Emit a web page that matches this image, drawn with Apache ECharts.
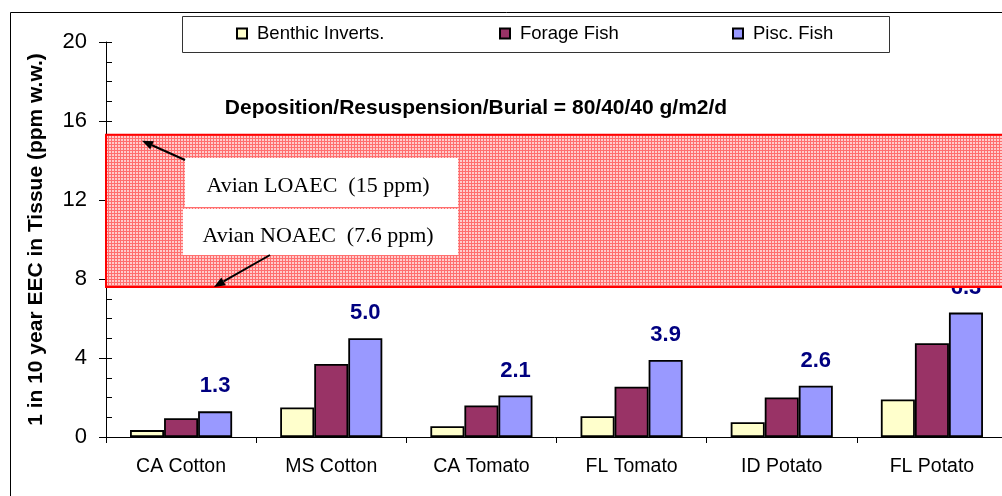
<!DOCTYPE html>
<html>
<head>
<meta charset="utf-8">
<script src="https://cdn.jsdelivr.net/npm/echarts@6/dist/echarts.min.js"></script>
<style>html,body{margin:0;padding:0;background:#fff;}#c{width:1002px;height:496px;}</style>
</head>
<body>
<div id="c"></div>
<script>
const categories = ['CA Cotton', 'MS Cotton', 'CA Tomato', 'FL Tomato', 'ID Potato', 'FL Potato'];
const seriesNames = ['Benthic Inverts.', 'Forage Fish', 'Pisc. Fish'];
const benthic = [0.35, 1.5, 0.55, 1.05, 0.75, 1.9];
const forage = [0.95, 3.7, 1.6, 2.55, 2.0, 4.75];
const pisc = [1.3, 5.0, 2.1, 3.9, 2.6, 6.3];
const yMin = 0, yMax = 20, yInterval = 4, yMinorInterval = 1;
const band = [7.6, 15.3];
const loaec = 15, noaec = 7.6;
const subtitle = 'Deposition/Resuspension/Burial = 80/40/40 g/m2/d';
const yTitle = '1 in 10 year EEC in Tissue (ppm w.w.)';
const noteLoaec = 'Avian LOAEC  (15 ppm)';
const noteNoaec = 'Avian NOAEC  (7.6 ppm)';

const FONT = "'Liberation Sans', Arial, sans-serif";
const SERIF = "'Liberation Serif', 'Times New Roman', serif";

// hatch pattern
const pat = document.createElement('canvas');
pat.width = 3; pat.height = 3;
const pc = pat.getContext('2d');
pc.fillStyle = '#FFCCCC'; pc.fillRect(0, 0, 3, 3);
pc.fillStyle = '#FF6E6E'; pc.fillRect(0, 0, 3, 1); pc.fillRect(0, 0, 1, 3);

const chart = echarts.init(document.getElementById('c'), null, {renderer: 'canvas'});

const colors = ['#FFFFCC', '#993366', '#9999FF'];
const dataSets = [benthic, forage, pisc];

const series = dataSets.map((d, i) => ({
  type: 'bar', barGap: '0%', barCategoryGap: '32%', z: 2,
  name: seriesNames[i],
  data: d,
  itemStyle: {color: colors[i], borderColor: '#000', borderWidth: 1.8},
  label: i === 2 ? {
    show: true, position: 'top', distance: 14,
    fontFamily: FONT, fontSize: 22, fontWeight: 'bold', color: '#000080',
    formatter: p => p.value.toFixed(1)
  } : {show: false}
}));
series.push({
  type: 'line', name: 'band', data: [], z: 6, silent: true,
  markArea: {
    z: 6, silent: true,
    itemStyle: {color: {image: pat, repeat: 'repeat'}, borderColor: '#FF0000', borderWidth: 2},
    data: [[{yAxis: band[0]}, {yAxis: band[1]}]]
  }
});

const legendBase = {
  top: 24, padding: 0, itemWidth: 10, itemHeight: 10, icon: 'rect',
  textStyle: {fontFamily: FONT, fontSize: 18.5, color: '#000', padding: [0, 0, 0, 5]},
  selectedMode: false
};

chart.setOption({
  animation: false,
  grid: {left: 106, right: -5, top: 42, bottom: 59, outerBoundsMode: 'none'},
  legend: [
    Object.assign({}, legendBase, {left: 236, data: [seriesNames[0]]}),
    Object.assign({}, legendBase, {left: 499, data: [seriesNames[1]]}),
    Object.assign({}, legendBase, {left: 732, data: [seriesNames[2]]})
  ],
  xAxis: {
    type: 'category', data: categories,
    axisLine: {lineStyle: {color: '#000', width: 1}},
    axisTick: {show: true, alignWithLabel: false, length: 6, lineStyle: {color: '#000'}},
    axisLabel: {fontFamily: FONT, fontSize: 19.5, color: '#000', margin: 20}
  },
  yAxis: [{
    type: 'value', min: yMin, max: yMax, interval: yInterval,
    name: yTitle, nameLocation: 'middle', nameRotate: 90, nameGap: 59,
    nameTextStyle: {fontFamily: FONT, fontSize: 21, fontWeight: 'bold', color: '#000'},
    axisLine: {show: true, lineStyle: {color: '#000', width: 1}},
    axisTick: {show: true, length: 7, lineStyle: {color: '#000'}},
    axisLabel: {fontFamily: FONT, fontSize: 22, color: '#000', margin: 19},
    splitLine: {show: false}
  }, {
    type: 'value', min: yMin, max: yMax, interval: yMinorInterval, position: 'left',
    axisLine: {show: false},
    axisTick: {show: true, inside: true, length: 6, lineStyle: {color: '#000'}},
    axisLabel: {show: false},
    splitLine: {show: false}
  }],
  series: series
});

function arrow(x1, y1, x2, y2) {
  const dx = x2 - x1, dy = y2 - y1, L = Math.sqrt(dx * dx + dy * dy);
  const ux = dx / L, uy = dy / L, hl = 11, hw = 4.5;
  const bx = x2 - ux * hl, by = y2 - uy * hl;
  return [
    {type: 'line', z: 20, shape: {x1: x1, y1: y1, x2: bx, y2: by}, style: {stroke: '#000', lineWidth: 2}},
    {type: 'polygon', z: 20, shape: {points: [[x2, y2], [bx - uy * hw, by + ux * hw], [bx + uy * hw, by - ux * hw]]}, style: {fill: '#000'}}
  ];
}

const yL = chart.convertToPixel({yAxisIndex: 0}, loaec);
const yN = chart.convertToPixel({yAxisIndex: 0}, noaec);

chart.setOption({
  graphic: [
    {type: 'rect', z: 0, shape: {x: 10.5, y: 12.5, width: 1000, height: 500}, style: {fill: null, stroke: '#000', lineWidth: 1}},
    {type: 'rect', z: 0, shape: {x: 182.5, y: 16.5, width: 707, height: 36}, style: {fill: null, stroke: '#333', lineWidth: 1}},
    {type: 'text', z: 20, style: {x: 476, y: 108, text: subtitle, align: 'center', verticalAlign: 'middle', font: 'bold 21px ' + FONT, fill: '#000'}},
    {type: 'rect', z: 19, shape: {x: 185, y: 158, width: 273, height: 49}, style: {fill: '#fff'}},
    {type: 'rect', z: 19, shape: {x: 183, y: 209, width: 275, height: 46}, style: {fill: '#fff'}},
    {type: 'text', z: 20, style: {x: 318, y: 186, text: noteLoaec, align: 'center', verticalAlign: 'middle', font: '22px ' + SERIF, fill: '#000'}},
    {type: 'text', z: 20, style: {x: 318, y: 236, text: noteNoaec, align: 'center', verticalAlign: 'middle', font: '22px ' + SERIF, fill: '#000'}}
  ].concat(arrow(185, 160, 142, yL)).concat(arrow(270, 255, 214, yN))
});
</script>
</body>
</html>
